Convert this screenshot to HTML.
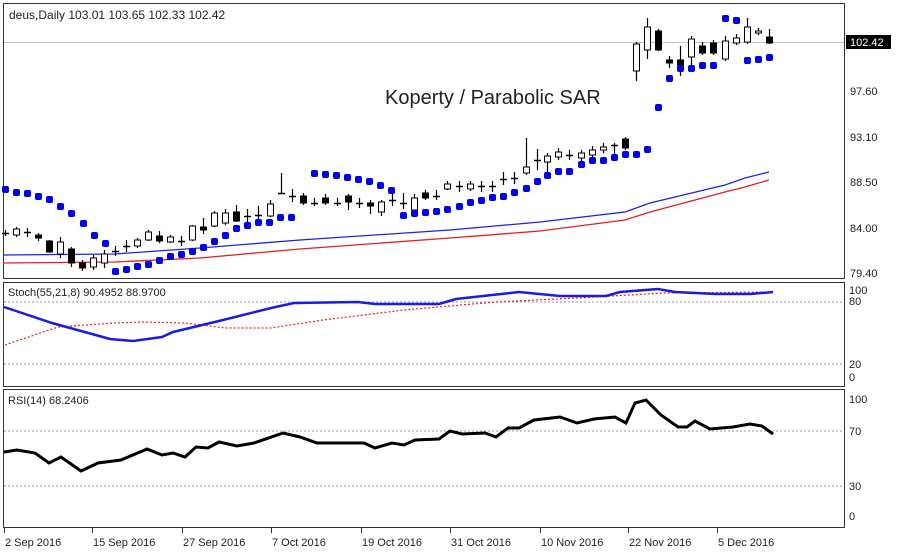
<!DOCTYPE html>
<html><head><meta charset="utf-8"><style>
body{margin:0;background:#fff;}
svg{display:block;font-family:"Liberation Sans",Tahoma,sans-serif;}
</style></head><body>
<svg id="s" width="900" height="554" xmlns="http://www.w3.org/2000/svg">
<rect width="900" height="554" fill="#fff"/>
<rect x="3.5" y="3.5" width="841" height="275" fill="none" stroke="#333"/>
<rect x="3.5" y="282.5" width="841" height="104" fill="none" stroke="#333"/>
<rect x="3.5" y="389.5" width="841" height="138" fill="none" stroke="#333"/>
<line x1="4" y1="42.5" x2="844" y2="42.5" stroke="#c0c0c0"/>
<text x="9" y="19" font-size="12" fill="#222">deus,Daily  103.01 103.65 102.33 102.42</text>
<text x="385" y="104" font-size="20" fill="#222">Koperty / Parabolic SAR</text>
<g font-size="11" fill="#222">
<rect x="846" y="35" width="45" height="14" fill="#000"/>
<text x="850" y="46" fill="#fff">102.42</text>
<text x="850" y="95">97.60</text>
<text x="850" y="141">93.10</text>
<text x="850" y="186">88.50</text>
<text x="850" y="232">84.00</text>
<text x="850" y="277">79.40</text>
<text x="849" y="294">100</text><text x="849" y="305">80</text>
<text x="849" y="368">20</text><text x="849" y="381">0</text>
<text x="849" y="403">100</text><text x="849" y="435">70</text>
<text x="849" y="490">30</text><text x="849" y="520">0</text>
<text x="8" y="296">Stoch(55,21,8) 90.4952 88.9700</text>
<text x="8" y="404">RSI(14) 68.2406</text>
</g>
<g stroke="#999" stroke-dasharray="2,2">
<line x1="4" y1="302" x2="844" y2="302"/><line x1="4" y1="364" x2="844" y2="364"/>
<line x1="4" y1="431" x2="844" y2="431"/><line x1="4" y1="486" x2="844" y2="486"/>
</g>
<g id="g"></g>
</svg>
<script>
var g=document.getElementById('g'),NS='http://www.w3.org/2000/svg';
function el(t,a){var e=document.createElementNS(NS,t);for(var k in a)e.setAttribute(k,a[k]);g.appendChild(e);return e;}
function pl(p,st){el('polyline',Object.assign({points:p.map(function(q){return q.join(',')}).join(' '),fill:'none'},st));}
pl([[3,255],[115,254],[200,248],[300,240],[450,230],[540,222],[625,212],[650,203],[725,185],[745,178],[769,172]],{stroke:'#2020e0','stroke-width':1.3});
pl([[3,263],[115,262],[200,258],[300,249],[450,238],[540,231],[625,220],[650,212],[725,192],[745,187],[769,180]],{stroke:'#e02020','stroke-width':1.3});
// candles: x, wickTop, wickBot, bodyTop, bodyBot, type (w/b/c)
var C=[[5,230,236,233,233,'c'],[16,227,237,229,235,'w'],[27,228,237,232,232,'c'],[38,233,241,235,238,'b'],[49,240,253,241,252,'b'],[60,237,258,242,254,'w'],[71,247,267,249,263,'b'],[82,260,271,263,268,'b'],[93,255,270,258,267,'w'],[104,250,268,254,263,'w'],
[115,246,256,251,251,'c'],[126,240,252,246,246,'c'],[137,238,248,240,246,'w'],[148,230,241,232,240,'w'],[159,231,243,236,241,'b'],[170,235,243,237,242,'w'],[181,236,246,241,241,'c'],[192,225,241,226,240,'w'],[203,218,234,227,230,'b'],[214,211,227,213,226,'w'],
[225,209,225,213,223,'w'],[236,205,222,212,221,'b'],[247,209,222,216,216,'c'],[258,206,222,215,215,'c'],[270,200,217,204,216,'w'],[281,173,194,193,193,'c'],[292,189,202,196,196,'c'],[303,193,205,196,203,'b'],[314,198,206,203,203,'c'],[325,194,205,198,203,'b'],
[337,198,206,203,203,'c'],[348,194,210,196,202,'b'],[359,198,208,203,203,'c'],[370,200,214,203,206,'b'],[381,200,216,202,212,'w'],[392,193,206,200,200,'c'],[403,193,209,203,203,'c'],[414,194,212,198,210,'w'],[425,190,200,193,198,'b'],[436,190,200,196,196,'c'],
[447,181,190,184,189,'w'],[459,181,192,186,186,'c'],[470,181,191,184,189,'w'],[481,181,192,186,186,'c'],[492,181,192,186,186,'c'],[503,172,185,179,179,'c'],[514,172,184,178,178,'c'],[526,138,175,167,173,'w'],[537,149,170,160,160,'c'],[547,153,175,156,162,'w'],
[558,148,160,152,157,'w'],[569,150,160,155,155,'c'],[581,150,161,153,158,'w'],[592,146,158,150,155,'w'],[603,143,153,147,150,'w'],[614,143,155,145,145,'c'],[625,137,150,139,148,'b'],[636,42,81,44,71,'w'],[647,18,59,27,50,'w'],[658,29,51,31,50,'b'],
[669,56,68,60,63,'b'],[680,46,76,60,65,'b'],[691,36,67,39,57,'w'],[702,42,55,46,53,'b'],[713,40,55,43,53,'b'],[725,36,61,41,59,'w'],[736,34,45,38,43,'w'],[747,18,44,27,42,'w'],[758,28,35,31,33,'w'],[769,29,44,37,43,'b']];
C.forEach(function(c){
 el('line',{x1:c[0]+.5,x2:c[0]+.5,y1:c[1],y2:c[2],stroke:'#000','stroke-width':1.2});
 if(c[5]=='c')el('line',{x1:c[0]-3,x2:c[0]+4,y1:c[3]+.5,y2:c[3]+.5,stroke:'#000','stroke-width':1.5});
 else el('rect',{x:c[0]-2.5,y:c[3],width:6,height:Math.max(2,c[4]-c[3]),fill:c[5]=='w'?'#fff':'#000',stroke:'#000','stroke-width':1});
});
var S=[[5,189],[16,192],[27,193],[38,196],[49,199],[60,206],[71,213],[83,223],[94,235],[105,243],[115,271],[126,269],[137,266],[148,264],[159,260],[170,256],[181,254],[192,251],[203,247],[214,241],[225,235],[236,228],[247,225],[258,222],[269,222],[280,217],[291,217],
[314,173],[325,174],[336,175],[347,177],[358,179],[369,181],[380,185],[391,190],[403,215],[414,213],[425,212],[436,211],[447,209],[459,206],[470,202],[481,200],[492,197],[503,196],[514,192],[526,188],[537,181],[547,175],[558,171],[569,171],[581,164],[592,160],[603,160],[614,157],[625,154],[636,154],[647,149],
[658,107],[669,78],[680,68],[691,68],[702,65],[713,65],[725,18],[736,20],[747,60],[758,59],[769,57]];
S.forEach(function(p){el('rect',{x:p[0]-3,y:p[1]-3,width:7,height:7,rx:2,fill:'#0000ee'});});
pl([[5,345],[58,327],[115,323],[144,322],[185,323],[225,328],[271,328],[323,320],[404,310],[496,302],[577,298],[664,293],[773,292]],{stroke:'#e02020','stroke-width':1.2,'stroke-dasharray':'2,2'});
pl([[4,307],[52,323],[110,339],[133,341],[162,337],[173,332],[219,321],[271,308],[294,303],[358,302],[375,304],[439,304],[456,299],[519,292],[560,296],[606,296],[620,292],[658,289],[675,292],[716,294],[750,294],[773,292]],{stroke:'#1a1ae6','stroke-width':2.5});
pl([[4,452],[17,450],[35,453],[49,463],[61,457],[81,471],[98,463],[121,460],[147,449],[162,455],[173,453],[185,457],[196,447],[208,448],[219,442],[237,446],[254,443],[283,433],[300,437],[317,443],[364,443],[375,448],[392,443],[404,445],[415,440],[439,439],[450,431],[462,434],[485,433],[496,437],[508,428],[519,428],[534,420],[560,417],[577,423],[594,419],[615,417],[626,423],[635,403],[646,400],[661,415],[678,427],[687,427],[695,421],[710,429],[733,427],[750,424],[762,426],[773,434]],{stroke:'#000','stroke-width':3});
var D=[[4,'2 Sep 2016'],[92,'15 Sep 2016'],[182,'27 Sep 2016'],[271,'7 Oct 2016'],[361,'19 Oct 2016'],[450,'31 Oct 2016'],[540,'10 Nov 2016'],[628,'22 Nov 2016'],[717,'5 Dec 2016']];
D.forEach(function(d){el('line',{x1:d[0]+.5,x2:d[0]+.5,y1:528,y2:533,stroke:'#333'});var t=el('text',{x:d[0]+1,y:546,'font-size':11,fill:'#222'});t.textContent=d[1];});
</script>
</body></html>
